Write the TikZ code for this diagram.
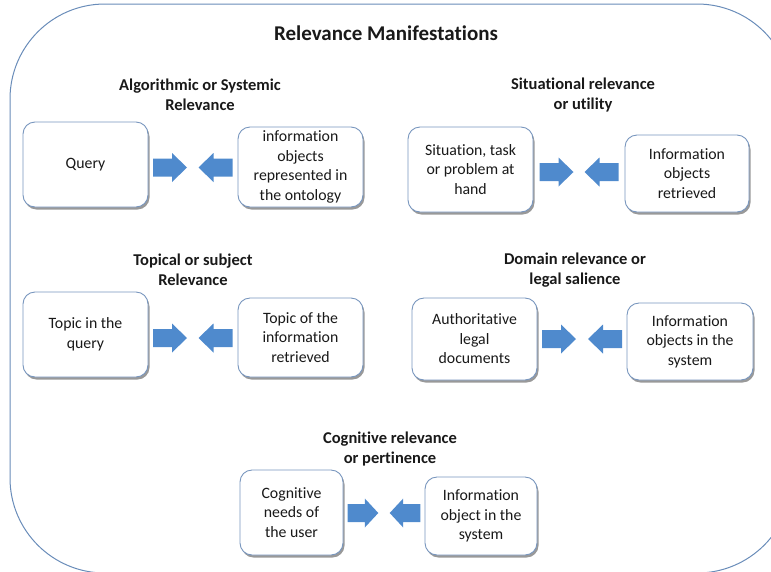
\documentclass[tikz,border=0pt]{standalone}
\usepackage{fontspec}
\setmainfont{Carlito}[Ligatures=NoCommon]
\usetikzlibrary{shadows}
\definecolor{frameblue}{RGB}{105,140,185}
\definecolor{boxedge}{RGB}{120,150,190}
\definecolor{arrowblue}{RGB}{79,138,205}
\definecolor{txt}{RGB}{25,25,25}
\begin{document}
\begin{tikzpicture}[x=1pt,y=-1pt,
  box/.style={draw=boxedge, line width=0.9pt, fill=white, rounded corners=12pt,
    align=center, text=txt, font=\fontsize{15.8}{19.5}\selectfont, inner sep=1pt,
    drop shadow={shadow xshift=1.5pt, shadow yshift=-2.5pt, fill=black, opacity=0.4}},
  head/.style={font=\bfseries\fontsize{16.5}{19.5}\selectfont, align=center, text=txt},
  rarrow/.pic={\fill[arrowblue] (-17,-9) -- (2,-9) -- (2,-14.5) -- (17,0) -- (2,14.5) -- (2,9) -- (-17,9) -- cycle;},
  larrow/.pic={\fill[arrowblue] (17,-9) -- (-2,-9) -- (-2,-14.5) -- (-17,0) -- (-2,14.5) -- (-2,9) -- (17,9) -- cycle;}
]
\useasboundingbox (0,0) rectangle (771,571);
\begin{scope}
  \clip (0,0) rectangle (771,571);
  \draw[frameblue, line width=1pt, rounded corners=95pt] (10,4) rectangle (792,573);
\end{scope}

\node[font=\bfseries\fontsize{21}{25}\selectfont, text=txt] (title) at (386,33) {Relevance Manifestations};

% Row 1 left
\node[head] (h1) at (200,95) {Algorithmic or Systemic\\Relevance};
\node[box, minimum width=125pt, minimum height=85pt] (q) at (85.5,164.5) {Query};
\node[box, minimum width=125pt, minimum height=80pt] (io) at (300.5,167) {information\\objects\\represented in\\the ontology};
\pic (a1) at (170,167.5) {rarrow};
\pic (a2) at (215.5,167.5) {larrow};

% Row 1 right
\node[head] (h2) at (583,95) {Situational relevance\\or utility};
\node[box, minimum width=125pt, minimum height=85pt] (sit) at (470.5,169.5) {Situation, task\\or problem at\\hand};
\node[box, minimum width=124pt, minimum height=77pt] (ret) at (687,173.5) {Information\\objects\\retrieved};
\pic (a3) at (556.5,172) {rarrow};
\pic (a4) at (601.5,172) {larrow};

% Row 2 left
\node[head] (h3) at (193,270) {Topical or subject\\Relevance};
\node[box, minimum width=125pt, minimum height=85pt] (tq) at (85.5,334.5) {Topic in the\\query};
\node[box, minimum width=125pt, minimum height=79pt] (tr) at (300.5,337.5) {Topic of the\\information\\retrieved};
\pic (a5) at (170,338) {rarrow};
\pic (a6) at (215.5,338) {larrow};

% Row 2 right
\node[head] (h4) at (575,270) {Domain relevance or\\legal salience};
\node[box, minimum width=125pt, minimum height=82pt] (auth) at (474.5,339) {Authoritative\\legal\\documents};
\node[box, minimum width=126pt, minimum height=77pt] (sys) at (690,341.5) {Information\\objects in the\\system};
\pic (a7) at (559,339) {rarrow};
\pic (a8) at (605,339) {larrow};

% Row 3
\node[head] (h5) at (390,449) {Cognitive relevance\\or pertinence};
\node[box, minimum width=103pt, minimum height=85pt] (cog) at (291.5,512.5) {Cognitive\\needs of\\the user};
\node[box, minimum width=112pt, minimum height=78pt] (obj) at (481,516) {Information\\object in the\\system};
\pic[xscale=0.9] (a9) at (363,513) {rarrow};
\pic[xscale=0.9] (a10) at (405,513) {larrow};
\end{tikzpicture}
\end{document}
